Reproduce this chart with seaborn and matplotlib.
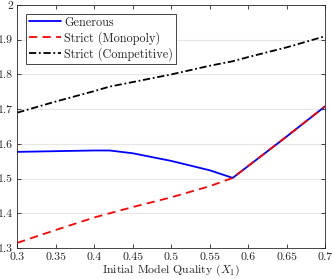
import numpy as np
import pandas as pd
import matplotlib
matplotlib.use('Agg')
import matplotlib.pyplot as plt
import seaborn as sns

# значения
x_vals = [0.30, 0.35, 0.40, 0.42, 0.45, 0.50, 0.55, 0.58, 0.60, 0.65, 0.70]
generous = [1.577, 1.579, 1.581, 1.581, 1.573, 1.551, 1.524, 1.502, 1.536, 1.621, 1.708]
strict_mono = [1.315, 1.352, 1.388, 1.400, 1.418, 1.446, 1.478, 1.502, 1.536, 1.621, 1.708]
strict_comp = [1.690, 1.722, 1.752, 1.765, 1.778, 1.800, 1.825, 1.838, 1.850, 1.878, 1.910]

sns.set_style('ticks')
plt.rcParams['font.family'] = ['cmr10', 'DejaVu Serif']
plt.rcParams['mathtext.fontset'] = 'cm'
plt.rcParams['axes.formatter.use_mathtext'] = True

fig = plt.figure(figsize=(3.32, 2.79), dpi=100)
ax = fig.add_axes([0.052, 0.111, 0.927, 0.871])

sns.lineplot(x=x_vals, y=generous, ax=ax, color='#0000ff', linewidth=1.3,
             label='Generous')
sns.lineplot(x=x_vals, y=strict_mono, ax=ax, color='#ff0000', linewidth=1.3,
             linestyle=(0, (4.5, 3)), label='Strict (Monopoly)')
sns.lineplot(x=x_vals, y=strict_comp, ax=ax, color='black', linewidth=1.3,
             linestyle=(0, (4, 1.5, 1, 1.5)), label='Strict (Competitive)')

ax.set_xlim(0.3, 0.7)
ax.set_ylim(1.3, 2.0)
ax.set_xticks([0.3, 0.35, 0.4, 0.45, 0.5, 0.55, 0.6, 0.65, 0.7])
ax.set_xticklabels(['0.3', '0.35', '0.4', '0.45', '0.5', '0.55', '0.6', '0.65', '0.7'])
ax.set_yticks([1.3, 1.4, 1.5, 1.6, 1.7, 1.8, 1.9, 2.0])
ax.set_yticklabels(['1.3', '1.4', '1.5', '1.6', '1.7', '1.8', '1.9', '2'])
ax.yaxis.grid(True, color='#e6e6e6', linewidth=0.8)
ax.set_axisbelow(True)
ax.tick_params(direction='in', top=True, right=True, length=3, width=0.6,
               labelsize=8.5, pad=3, colors='#262626')
for s in ax.spines.values():
    s.set_color('#262626')
    s.set_linewidth(0.6)
ax.set_xlabel('Initial Model Quality ($X_1$)', fontsize=8.5, labelpad=1, color='#262626')

leg = ax.legend(loc='upper left', fontsize=8.8, frameon=True, fancybox=False,
                edgecolor='#262626', framealpha=1, borderpad=0.25,
                labelspacing=0.2, handlelength=2.6, handletextpad=0.3,
                borderaxespad=0.7)
leg.get_frame().set_linewidth(0.6)

fig.savefig('out.png', dpi=100)
